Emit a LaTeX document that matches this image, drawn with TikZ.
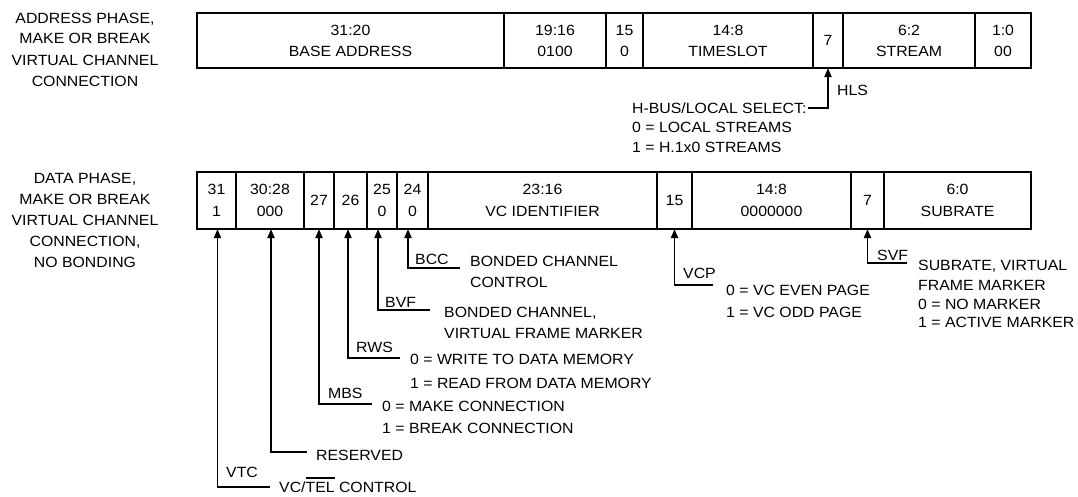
\documentclass[tikz,border=0pt]{standalone}
\usepackage{fontspec}
\setmainfont[FakeStretch=1.07]{Liberation Sans}
\usetikzlibrary{arrows.meta}
\newcommand\myol[1]{\begingroup\setbox0\hbox{#1}\rlap{\rule[13.4pt]{\wd0}{1.6pt}}\box0\endgroup}
\newcommand\labfont{\fontsize{14.8}{21}\selectfont}
\begin{document}
\begin{tikzpicture}[x=1pt,y=-1pt,
  cellT/.style={draw, line width=2.8pt, inner sep=0pt, outer sep=0pt, anchor=north west,
     minimum height=55pt, align=center, font=\fontsize{14.8}{21}\selectfont},
  cellB/.style={draw, line width=2.8pt, inner sep=0pt, outer sep=0pt, anchor=north west,
     minimum height=57pt, align=center, font=\fontsize{14.8}{22}\selectfont},
  lab/.style={font=\labfont, inner sep=0pt, anchor=west, text height=10.6pt, text depth=0pt},
  side/.style={lab, anchor=center},
  leader/.style={line width=1.8pt, -{Triangle[length=9pt,width=7pt]}}]
\useasboundingbox (0,0) rectangle (1078,496);

% ---------- left side labels ----------
\node[side] (a1) at (85,18) {ADDRESS PHASE,};
\node[side] (a2) at (85,38) {MAKE OR BREAK};
\node[side] (a3) at (85,60) {VIRTUAL CHANNEL};
\node[side] (a4) at (85,81) {CONNECTION};
\node[side] (d1) at (85,178) {DATA PHASE,};
\node[side] (d2) at (85,199) {MAKE OR BREAK};
\node[side] (d3) at (85,220) {VIRTUAL CHANNEL};
\node[side] (d4) at (85,241) {CONNECTION,};
\node[side] (d5) at (85,262) {NO BONDING};

% ---------- address phase register ----------
\node[cellT, minimum width=307pt] (t3120) at (197,13) {31:20\\BASE ADDRESS};
\node[cellT, minimum width=102pt] (t1916) at (504,13) {19:16\\0100};
\node[cellT, minimum width=37pt]  (t15)   at (606,13) {15\\0};
\node[cellT, minimum width=170pt] (t148)  at (643,13) {14:8\\TIMESLOT};
\node[cellT, minimum width=30pt]  (t7)    at (813,13) {7};
\node[cellT, minimum width=132pt] (t62)   at (843,13) {6:2\\STREAM};
\node[cellT, minimum width=56pt]  (t10)   at (975,13) {1:0\\00};

% HLS
\coordinate (hlsEnd) at (808,108);
\draw[leader] (hlsEnd) -| (t7.south);
\node[lab] (hls) at (837,90) {HLS};
\node[lab] (hls1) at (632,108) {H-BUS/LOCAL SELECT:};
\node[lab] (hls2) at (632,127) {0 = LOCAL STREAMS};
\node[lab] (hls3) at (632,147) {1 = H.1x0 STREAMS};

% ---------- data phase register ----------
\node[cellB, minimum width=39pt]  (b31)   at (197,172) {31\\1};
\node[cellB, minimum width=68pt]  (b3028) at (236,172) {30:28\\000};
\node[cellB, minimum width=30pt]  (b27)   at (304,172) {27};
\node[cellB, minimum width=33pt]  (b26)   at (334,172) {26};
\node[cellB, minimum width=30pt]  (b25)   at (367,172) {25\\0};
\node[cellB, minimum width=31pt]  (b24)   at (397,172) {24\\0};
\node[cellB, minimum width=229pt] (b2316) at (428,172) {23:16\\VC IDENTIFIER};
\node[cellB, minimum width=35pt]  (b15)   at (657,172) {15};
\node[cellB, minimum width=159pt] (b148)  at (692,172) {14:8\\0000000};
\node[cellB, minimum width=33pt]  (b7)    at (851,172) {7};
\node[cellB, minimum width=147pt] (b60)   at (884,172) {6:0\\SUBRATE};

% BCC
\coordinate (bccEnd) at (460,268);
\draw[leader] (bccEnd) -| ([xshift=-4.5pt]b24.south);
\node[lab] (bcc) at (415,259) {BCC};
\node[lab] (bcc1) at (470,261) {BONDED CHANNEL};
\node[lab] (bcc2) at (470,282) {CONTROL};

% BVF
\coordinate (bvfEnd) at (430,310);
\draw[leader] (bvfEnd) -| ([xshift=-4pt]b25.south);
\node[lab] (bvf) at (385,302) {BVF};
\node[lab] (bvf1) at (444,312) {BONDED CHANNEL,};
\node[lab] (bvf2) at (444,333) {VIRTUAL FRAME MARKER};

% RWS
\coordinate (rwsEnd) at (400,358);
\draw[leader] (rwsEnd) -| ([xshift=-2.5pt]b26.south);
\node[lab] (rws) at (356,347) {RWS};
\node[lab] (rws1) at (410,359) {0 = WRITE TO DATA MEMORY};
\node[lab] (rws2) at (410,383) {1 = READ FROM DATA MEMORY};

% MBS
\coordinate (mbsEnd) at (372,404);
\draw[leader] (mbsEnd) -| (b27.south);
\node[lab] (mbs) at (328,393) {MBS};
\node[lab] (mbs1) at (382,406) {0 = MAKE CONNECTION};
\node[lab] (mbs2) at (382,428) {1 = BREAK CONNECTION};

% RESERVED
\coordinate (resEnd) at (307,452);
\draw[leader] (resEnd) -| ([xshift=1pt]b3028.south);
\node[lab] (res) at (316,455) {RESERVED};

% VTC
\coordinate (vtcEnd) at (270,487);
\draw[leader] (vtcEnd) -| ([xshift=1pt]b31.south);
\node[lab] (vtc) at (226,472) {VTC};
\node[lab] (vtc1) at (279,487) {VC/\myol{TEL} CONTROL};

% VCP
\coordinate (vcpEnd) at (713,285);
\draw[leader] (vcpEnd) -| (b15.south);
\node[lab] (vcp) at (683,273) {VCP};
\node[lab] (vcp1) at (726,290) {0 = VC EVEN PAGE};
\node[lab] (vcp2) at (726,312) {1 = VC ODD PAGE};

% SVF
\coordinate (svfEnd) at (907,263);
\draw[leader] (svfEnd) -| (b7.south);
\node[lab] (svf) at (877,255) {SVF};
\node[lab] (svf1) at (918,265) {SUBRATE, VIRTUAL};
\node[lab] (svf2) at (918,285) {FRAME MARKER};
\node[lab] (svf3) at (918,304) {0 = NO MARKER};
\node[lab] (svf4) at (918,322) {1 = ACTIVE MARKER};
\end{tikzpicture}
\end{document}
